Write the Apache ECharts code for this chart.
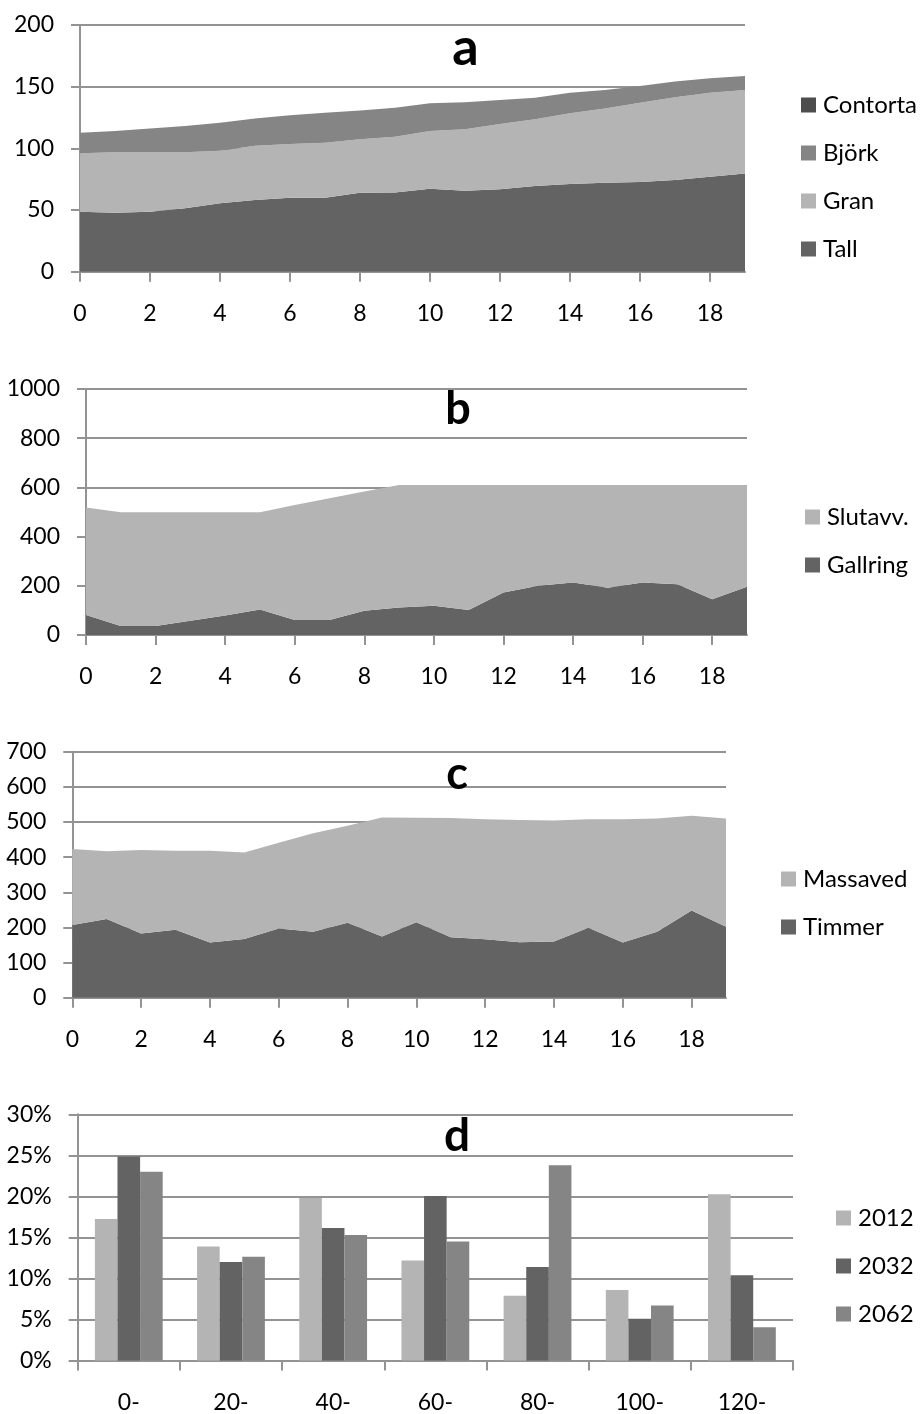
<!DOCTYPE html>
<html>
<head>
<meta charset="utf-8">
<script src="https://cdn.jsdelivr.net/npm/echarts@6/dist/echarts.min.js"></script>
<style>
html,body{margin:0;padding:0;background:#fff;}
#chart{width:920px;height:1414px;}
</style>
</head>
<body>
<div id="chart"></div>
<script>
// ---- data ----
const years = ['0','1','2','3','4','5','6','7','8','9','10','11','12','13','14','15','16','17','18','19'];

// Chart a
const tall     = [48.6, 47.8, 48.6, 51.4, 55.4, 58.1, 60.0, 60.0, 64.0, 64.3, 67.3, 65.7, 66.8, 69.5, 71.1, 72.2, 72.7, 74.3, 77.0, 79.7];
const gran     = [47.4, 49.0, 48.2, 45.4, 42.7, 44.1, 43.5, 44.6, 43.3, 45.2, 46.7, 49.7, 52.9, 54.0, 57.3, 60.2, 64.3, 67.1, 68.1, 67.6];
const bjork    = [16.7, 17.2, 19.2, 21.3, 22.7, 22.1, 23.3, 24.3, 23.3, 23.5, 22.5, 21.9, 19.5, 17.6, 16.7, 14.9, 13.6, 12.7, 11.7, 11.4];
const contorta = [0, 0, 0, 0, 0, 0, 0, 0, 0, 0, 0, 0, 0, 0, 0, 0, 0, 0, 0, 0];

// Chart b
const gallring = [81, 37, 37, 58, 79, 104, 61, 61, 99, 112, 119, 102, 173, 200, 213, 192, 213, 206, 145, 196];
const slutavv  = [437, 462, 462, 441, 420, 395, 467, 495, 484, 498, 491, 508, 437, 410, 397, 418, 397, 404, 465, 414];

// Chart c
const timmer   = [207, 224, 183, 193, 157, 167, 197, 188, 213, 174, 215, 172, 166, 158, 160, 199, 157, 188, 248, 202];
const massaved = [216, 193, 237, 225, 261, 246, 244, 280, 276, 339, 297, 339, 342, 348, 344, 309, 351, 322, 270, 308];

// Chart d
const ageClasses = ['0-','20-','40-','60-','80-','100-','120-'];
const y2012 = [17.25, 13.9, 19.8, 12.2, 7.9, 8.6, 20.25];
const y2032 = [24.85, 12.0, 16.15, 20.05, 11.4, 5.1, 10.4];
const y2062 = [23.0, 12.65, 15.3, 14.5, 23.8, 6.7, 4.05];

// ---- styles ----
const FONT = 'Lato';
const GRID_COL = '#939393';
const C_DARK = '#636363', C_MID = '#858585', C_LIGHT = '#b4b4b4', C_DARKEST = '#4d4d4d';

function catAxis(gridIndex, data, boundaryGap, labelInterval) {
  return {
    type: 'category', gridIndex, data, boundaryGap,
    axisLine: { show: true, lineStyle: { color: GRID_COL, width: 2 } },
    axisTick: { show: true, length: 10, interval: boundaryGap ? 0 : labelInterval, alignWithLabel: false, lineStyle: { color: GRID_COL, width: 2 } },
    axisLabel: { interval: labelInterval, margin: 30.5, fontSize: 23, fontFamily: FONT, color: '#000' },
    splitLine: { show: false }
  };
}
function valAxis(gridIndex, max, interval, suffix) {
  return {
    type: 'value', gridIndex, min: 0, max, interval,
    axisLine: { show: true, lineStyle: { color: GRID_COL, width: 2 } },
    axisTick: { show: true, length: 9, lineStyle: { color: GRID_COL, width: 2 } },
    axisLabel: { margin: 26, fontSize: 23, fontFamily: FONT, color: '#000', formatter: v => String(v) + (suffix || '') },
    splitLine: { show: true, lineStyle: { color: GRID_COL, width: 2 } }
  };
}
function area(name, data, color, idx, stack) {
  return {
    name, type: 'line', data, stack, xAxisIndex: idx, yAxisIndex: idx,
    symbol: 'none', showSymbol: false, smooth: false,
    lineStyle: { width: 0, color }, itemStyle: { color },
    areaStyle: { color, opacity: 1 }, emphasis: { disabled: true }, silent: true
  };
}
function bar(name, data, color) {
  return {
    name, type: 'bar', data, xAxisIndex: 3, yAxisIndex: 3,
    barWidth: 22.6, barGap: '0%', itemStyle: { color }, silent: true
  };
}
function legend(names, left, top) {
  return {
    data: names, orient: 'vertical', left, top, padding: 0,
    icon: 'rect', itemWidth: 15, itemHeight: 15, itemGap: 24,
    selectedMode: false,
    textStyle: { fontSize: 24, fontFamily: FONT, color: '#000', padding: [0, 0, 0, 2] }
  };
}
function ttl(text, x, y, size) {
  return {
    text, left: x, top: y, padding: 0, textAlign: 'center', textVerticalAlign: 'middle',
    textStyle: { fontSize: size, fontWeight: 'bold', fontFamily: FONT, color: '#000' }
  };
}

const option = {
  animation: false,
  backgroundColor: '#fff',
  title: [
    ttl('a', 465.5, 48, 52),
    ttl('b', 458, 409, 45),
    ttl('c', 457, 774, 45),
    ttl('d', 457, 1136, 46)
  ],
  legend: [
    legend(['Contorta', 'Björk', 'Gran', 'Tall'], 801, 93),
    legend(['Slutavv.', 'Gallring'], 805, 505),
    legend(['Massaved', 'Timmer'], 781, 867),
    legend(['2012', '2032', '2062'], 836, 1206)
  ],
  grid: [
    { left: 80, top: 25, width: 665, height: 246.7 },
    { left: 86, top: 389, width: 661, height: 246 },
    { left: 72.3, top: 751.7, width: 653.7, height: 246 },
    { left: 77.7, top: 1114.3, width: 715.3, height: 246.4 }
  ],
  xAxis: [
    catAxis(0, years, false, 1),
    catAxis(1, years, false, 1),
    catAxis(2, years, false, 1),
    catAxis(3, ageClasses, true, 0)
  ],
  yAxis: [
    valAxis(0, 200, 50),
    valAxis(1, 1000, 200),
    valAxis(2, 700, 100),
    valAxis(3, 30, 5, '%')
  ],
  series: [
    area('Tall', tall, C_DARK, 0, 'a'),
    area('Gran', gran, C_LIGHT, 0, 'a'),
    area('Björk', bjork, C_MID, 0, 'a'),
    area('Contorta', contorta, C_DARKEST, 0, 'a'),
    area('Gallring', gallring, C_DARK, 1, 'b'),
    area('Slutavv.', slutavv, C_LIGHT, 1, 'b'),
    area('Timmer', timmer, C_DARK, 2, 'c'),
    area('Massaved', massaved, C_LIGHT, 2, 'c'),
    bar('2012', y2012, C_LIGHT),
    bar('2032', y2032, C_DARK),
    bar('2062', y2062, C_MID)
  ]
};

const chart = echarts.init(document.getElementById('chart'), null, { renderer: 'canvas' });
chart.setOption(option);
</script>
</body>
</html>
